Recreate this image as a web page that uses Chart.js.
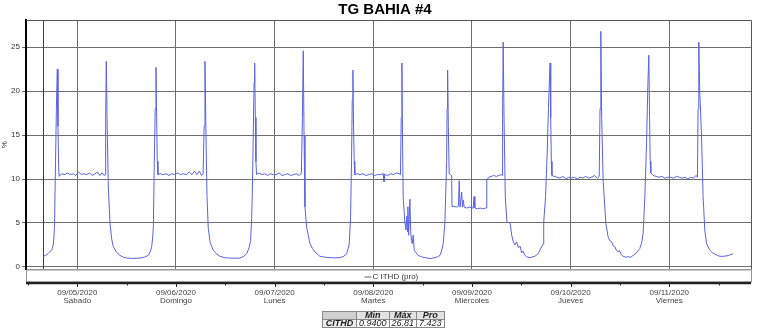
<!DOCTYPE html>
<html>
<head>
<meta charset="utf-8">
<title>TG BAHIA #4</title>
<script src="https://cdn.jsdelivr.net/npm/chart.js@4.4.1/dist/chart.umd.min.js"></script>
<style>
    body { margin: 0; background: #fff; font-family: 'Liberation Sans', Arial, sans-serif; }
    #zona { position: relative; width: 763px; height: 332px; }
    #resumen { position: absolute; left: 322px; top: 311px; border-collapse: collapse; font-size: 9px; font-style: italic; color: #222; }
    #resumen td { border: 1px solid #888; padding: 0 2px; height: 7px; line-height: 7px; text-align: center; }
    #resumen .cab td { background: #e2e2e2; font-weight: bold; }
    #resumen .cab td.vacia { background: #cfcfcf; }
    #resumen td.nombre { font-weight: bold; background: #ececec; }
</style>
</head>
<body>
<div id="zona">
    <canvas id="canvas_cithd"></canvas>
    <table id="resumen"></table>
</div>
<script>
// horas desde 09/04/2020 00:00
const titulo = 'TG BAHIA #4';
const inicio = 15.73;
const marcasX = [24, 48, 72, 96, 120, 144, 168];
const fechas = ['09/05/2020', '09/06/2020', '09/07/2020', '09/08/2020', '09/09/2020', '09/10/2020', '09/11/2020'];
const dias = ['Sabado', 'Domingo', 'Lunes', 'Martes', 'Miércoles', 'Jueves', 'Viernes'];
const marcasY = [0, 5, 10, 15, 20, 25];

const horas = [
    15.73, 16.3, 16.9, 17.5, 17.85, 18.2, 18.45, 18.7, 18.95, 19.14, 19.3, 19.45, 19.6,
    20.2, 21.0, 21.6, 22.3, 23.0, 23.6, 24.3, 25.0, 25.6, 26.3, 27.0, 27.6, 28.3, 28.9, 29.5, 30.0, 30.5, 30.75, 30.9, 31.05,
    31.3, 31.55, 31.95, 32.35, 32.75, 33.5, 34.38, 35.2, 36.0, 37.5, 39.25, 40.3, 41.26, 41.8, 42.09, 42.35, 42.5, 42.72, 42.95, 43.14, 43.3, 43.45, 43.62,
    44.2, 44.9, 45.6, 46.3, 47.0, 47.7, 48.4, 49.1, 49.8, 50.5, 51.2, 51.9, 52.5, 53.1, 53.7, 54.2, 54.6, 54.85, 55.05,
    55.3, 55.55, 55.85, 56.3, 57.07, 57.8, 58.7, 59.8, 61.13, 62.4, 63.56, 64.5, 65.19, 65.8, 66.16, 66.4, 66.55, 66.8, 67.0, 67.14, 67.3, 67.45, 67.6,
    68.2, 68.9, 69.6, 70.3, 71.0, 71.7, 72.4, 73.1, 73.8, 74.5, 75.2, 75.9, 76.6, 77.3, 78.0, 78.5, 78.75, 78.96,
    79.15, 79.37, 79.78, 80.59, 81.2, 81.8, 83.02, 84.2, 85.45, 86.7, 87.88, 88.8, 89.51, 89.9, 90.13, 90.47, 90.7, 90.88, 91.04, 91.2, 91.35, 91.5,
    92.1, 92.8, 93.5, 94.2, 94.9, 95.6, 96.3, 97.0, 97.7, 98.4, 98.6, 98.8, 99.5, 100.2, 100.9, 101.6, 102.3, 102.6, 102.8, 102.96,
    103.1, 103.27, 103.68, 103.95, 104.17, 104.3, 104.41, 104.6, 104.9, 105.1, 105.3, 105.46, 105.7, 105.95, 106.4, 106.92, 107.7, 108.55, 109.8, 110.98, 111.6, 112.2, 112.6, 113.0, 113.41, 113.83, 113.95, 114.07, 114.25, 114.45, 114.8, 115.05, 115.15,
    115.6, 116.2, 116.7, 116.9, 117.1, 117.5, 117.7, 117.9, 118.1, 118.7, 119.4, 120.0, 120.3, 120.5, 120.7, 121.3, 122.0, 122.7, 123.3, 123.55, 123.6, 124.1, 124.7, 125.3, 125.9, 126.5, 127.1, 127.35, 127.45, 127.59,
    127.8, 128.1, 128.5, 129.26, 129.67, 130.05, 130.47, 130.85, 131.27, 131.7, 132.1, 132.45, 132.8, 133.28, 134.08, 135.3, 136.1, 136.93, 137.32, 137.45, 137.9, 138.3, 138.6, 138.85, 139.0, 139.15, 139.3, 139.45,
    140.0, 140.7, 141.4, 142.1, 142.8, 143.5, 144.2, 144.9, 145.6, 146.3, 147.0, 147.7, 148.4, 149.1, 149.8, 150.5, 150.95, 151.15, 151.34,
    151.55, 151.9, 152.56, 153.12, 153.5, 153.95, 154.35, 154.75, 155.1, 155.55, 155.9, 156.3, 156.77, 157.4, 157.98, 158.6, 159.2, 160.0, 160.83, 161.3, 161.63, 162.05, 162.46, 162.8, 163.02, 163.2, 163.35, 163.5,
    164.1, 164.8, 165.5, 166.2, 166.9, 167.6, 168.3, 169.0, 169.7, 170.4, 171.1, 171.8, 172.5, 173.2, 173.9, 174.5, 174.85, 175.0, 175.17,
    175.4, 175.83, 176.22, 176.63, 177.05, 177.85, 178.5, 179.07, 179.7, 180.28, 181.1, 181.91, 182.7, 183.5
];
const cithd = [
    1.2, 1.3, 1.5, 1.8, 2.0, 2.6, 4.5, 12, 19, 22.5, 16, 11.5, 10.3,
    10.6, 10.5, 10.7, 10.5, 10.6, 10.4, 10.8, 10.5, 10.6, 10.5, 10.7, 10.4, 10.6, 10.8, 10.4, 10.7, 10.4, 10.5, 17, 23.4,
    15, 9, 5, 3.2, 2.3, 1.7, 1.3, 1.1, 1.0, 0.96, 1.0, 1.1, 1.3, 1.8, 2.3, 3.4, 4.6, 11.8, 18, 22.7, 17, 12, 10.5,
    10.6, 10.5, 10.6, 10.4, 10.6, 10.5, 10.7, 10.5, 10.6, 10.5, 10.8, 10.5, 10.9, 10.5, 10.9, 10.4, 10.6, 16, 23.4,
    15, 8, 4.4, 2.8, 1.9, 1.5, 1.2, 1.05, 1.0, 0.98, 1.0, 1.2, 1.5, 2.2, 3.0, 5.5, 8, 15, 21, 23.2, 17, 12, 10.5,
    10.7, 10.5, 10.6, 10.4, 10.6, 10.5, 10.5, 10.7, 10.4, 10.5, 10.6, 10.4, 10.5, 10.6, 10.4, 10.7, 17, 24.6,
    15, 6.85, 4.5, 2.65, 2.1, 1.7, 1.2, 1.1, 1.05, 1.02, 1.05, 1.2, 1.5, 2.1, 2.6, 5.6, 12, 19, 22.4, 16, 12, 10.5,
    10.6, 10.5, 10.6, 10.4, 10.5, 10.6, 10.4, 10.5, 10.5, 10.6, 9.7, 10.5, 10.4, 10.6, 10.5, 10.7, 10.6, 10.5, 17, 23.2,
    15, 8, 5.0, 4.2, 5.8, 4.0, 6.85, 3.6, 7.7, 4.0, 3.0, 2.65, 3.6, 1.9, 1.6, 1.3, 1.15, 1.05, 0.94, 1.05, 1.15, 1.3, 1.8, 2.65, 5.0, 12, 18, 22.4, 16, 10.6, 10.5, 10.4, 6.85,
    6.9, 6.8, 6.9, 9.8, 6.8, 8.5, 6.8, 7.6, 6.8, 6.7, 6.8, 6.7, 6.7, 8.0, 6.7, 6.6, 6.7, 6.6, 6.7, 6.7, 9.9, 10.2, 10.3, 10.4, 10.3, 10.4, 10.5, 10.4, 17, 25.6,
    17, 8, 5.1, 5.0, 3.6, 2.85, 2.5, 2.85, 2.2, 2.35, 1.6, 1.8, 1.35, 1.15, 1.05, 1.2, 1.5, 2.3, 2.6, 5.1, 8, 13, 18, 21.5, 23.2, 17, 12, 10.4,
    10.3, 10.2, 10.1, 10.3, 10.0, 10.2, 10.1, 10.2, 10.0, 10.2, 10.1, 10.3, 10.1, 10.2, 10.4, 10.1, 10.3, 18, 26.81,
    17, 9.9, 4.95, 3.4, 3.0, 2.85, 2.4, 2.3, 1.9, 1.7, 1.85, 1.4, 1.2, 1.1, 1.15, 1.1, 1.3, 1.6, 2.1, 2.8, 3.8, 8.0, 14, 21, 24.1, 17, 12, 10.7,
    10.4, 10.3, 10.2, 10.3, 10.1, 10.2, 10.2, 10.1, 10.3, 10.2, 10.1, 10.2, 10.0, 10.2, 10.1, 10.4, 10.2, 18, 25.6,
    20, 15, 8.0, 4.2, 2.65, 1.9, 1.6, 1.45, 1.3, 1.2, 1.2, 1.25, 1.35, 1.5
];

const resumen_titulos = ['Min', 'Máx', 'Pro'];
const resumen_valores = ['0.9400', '26.81', '7.423'];

function tabla_resumen() {
    let html = '<tr class="cab"><td class="vacia" style="width:29px"></td>';
    resumen_titulos.forEach(function (t) { html += '<td>' + t + '</td>'; });
    html += '</tr><tr><td class="nombre">CITHD</td>';
    resumen_valores.forEach(function (v) { html += '<td>' + v + '</td>'; });
    html += '</tr>';
    document.getElementById('resumen').innerHTML = html;
}

const decoracion = {
    id: 'decoracion',
    beforeDatasetsDraw(chart) {
        const ctx = chart.ctx, a = chart.chartArea;
        const xr = Math.round(chart.scales.x.getPixelForValue(inicio)) + 0.5;
        ctx.save();
        ctx.strokeStyle = '#d00000';
        ctx.lineWidth = 1;
        ctx.beginPath();
        ctx.moveTo(xr, a.top);
        ctx.lineTo(xr, a.bottom);
        ctx.stroke();
        ctx.restore();
    },
    afterDraw(chart) {
        const ctx = chart.ctx, a = chart.chartArea, sx = chart.scales.x;
        ctx.save();
        // titulo
        ctx.fillStyle = '#000';
        ctx.font = "bold 15px 'Liberation Sans', Arial, sans-serif";
        ctx.textAlign = 'center';
        ctx.textBaseline = 'middle';
        ctx.fillText(titulo, 385, 9.5);
        // marco superior y derecho
        ctx.strokeStyle = '#555';
        ctx.lineWidth = 1;
        ctx.beginPath();
        ctx.moveTo(a.left, a.top + 0.5);
        ctx.lineTo(a.right + 0.5, a.top + 0.5);
        ctx.lineTo(a.right + 0.5, a.bottom);
        ctx.stroke();
        // leyenda
        ctx.strokeStyle = '#999';
        ctx.strokeRect(a.left + 0.5, a.bottom + 0.5, a.right - a.left, 12);
        const cx = (a.left + a.right) / 2 + 4;
        ctx.strokeStyle = '#666';
        ctx.beginPath();
        ctx.moveTo(cx - 28, a.bottom + 7.5);
        ctx.lineTo(cx - 21, a.bottom + 7.5);
        ctx.stroke();
        ctx.fillStyle = '#333';
        ctx.font = "8px 'Liberation Sans', Arial, sans-serif";
        ctx.textBaseline = 'middle';
        ctx.textAlign = 'left';
        ctx.fillText('C ITHD (pro)', cx - 20, a.bottom + 7);
        // eje x grueso
        const ye = a.bottom + 13.5;
        ctx.strokeStyle = '#222';
        ctx.lineWidth = 2.5;
        ctx.beginPath();
        ctx.moveTo(a.left, ye);
        ctx.lineTo(a.right, ye);
        ctx.stroke();
        ctx.lineWidth = 1;
        for (let h = 12; h <= 186; h += 12) {
            const px = Math.round(sx.getPixelForValue(h)) + 0.5;
            if (px < a.left || px > a.right) continue;
            ctx.beginPath();
            ctx.moveTo(px, ye);
            ctx.lineTo(px, ye + (h % 24 === 0 ? 4 : 2.5));
            ctx.stroke();
        }
        ctx.restore();
    }
};

function grafico_cithd() {
    const puntos = horas.map(function (h, i) { return { x: h, y: cithd[i] }; });
    const chart_datas = {
        datasets: [
            {
                label: 'C ITHD (pro)',
                data: puntos,
                borderColor: '#5a62e6',
                borderWidth: 1,
                pointRadius: 0,
                tension: 0,
                fill: false
            }
        ]
    };
    const options = {
        responsive: true,
        maintainAspectRatio: false,
        animation: false,
        layout: { padding: { left: 0, right: 12, top: 20, bottom: 0 } },
        plugins: {
            legend: { display: false },
            tooltip: { enabled: false },
            title: { display: false }
        },
        scales: {
            x: {
                type: 'linear',
                min: 11.52,
                max: 187.87,
                afterFit: function (s) { s.height = 62.5; },
                afterBuildTicks: function (s) { s.ticks = marcasX.map(function (v) { return { value: v }; }); },
                grid: { color: '#6e6e6e', lineWidth: 1, drawTicks: false },
                border: { display: true, color: '#999', width: 1 },
                ticks: {
                    autoSkip: false,
                    maxRotation: 0,
                    padding: 19,
                    color: '#444',
                    font: { family: "'Liberation Sans', Arial, sans-serif", size: 8, lineHeight: 1.0 },
                    callback: function (v) {
                        const i = marcasX.indexOf(v);
                        return i < 0 ? '' : [fechas[i], dias[i]];
                    }
                }
            },
            y: {
                min: -0.3,
                max: 28.1,
                afterFit: function (s) { s.width = 26; },
                afterBuildTicks: function (s) { s.ticks = marcasY.map(function (v) { return { value: v }; }); },
                grid: { color: '#6e6e6e', lineWidth: 1, tickLength: 4 },
                border: { display: true, color: '#000', width: 2 },
                title: {
                    display: true,
                    text: '%',
                    color: '#333',
                    padding: 0,
                    font: { family: "'Liberation Sans', Arial, sans-serif", size: 8 }
                },
                ticks: {
                    padding: 2,
                    color: '#333',
                    font: { family: "'Liberation Sans', Arial, sans-serif", size: 8 }
                }
            }
        }
    };
    const graph = new Chart(document.getElementById('canvas_cithd'), {
        type: 'line',
        data: chart_datas,
        options: options,
        plugins: [decoracion]
    });
}

tabla_resumen();
grafico_cithd();
</script>
</body>
</html>
